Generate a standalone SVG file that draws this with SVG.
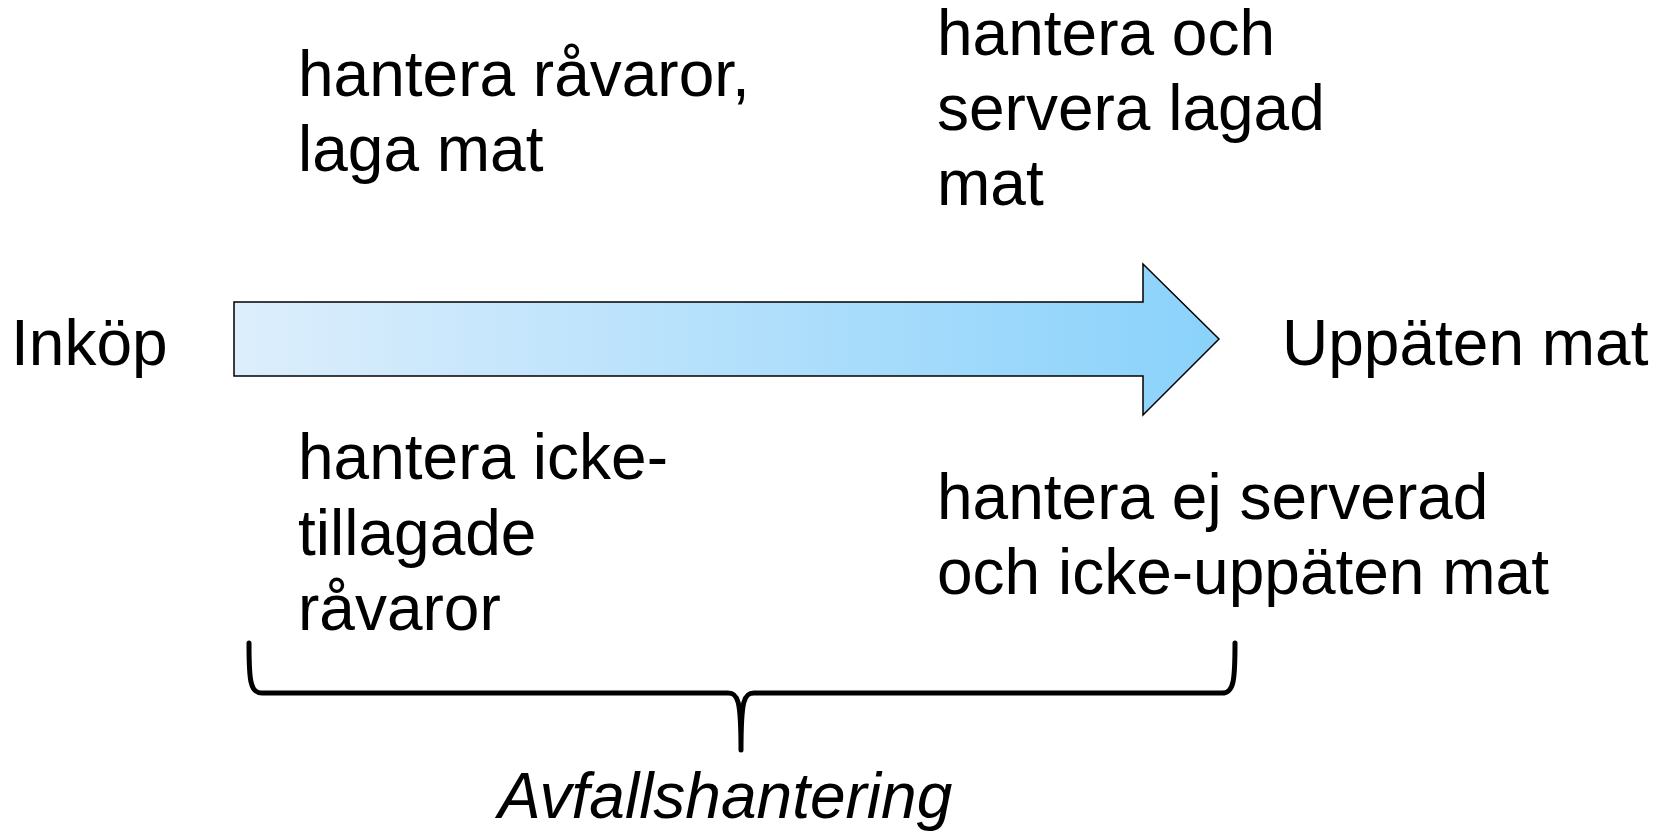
<svg xmlns="http://www.w3.org/2000/svg" width="1667" height="832" viewBox="0 0 1667 832">
<style>
  text { font-family: "Liberation Sans", Arial, sans-serif; font-size: 64px; fill: #000; }
  .it { font-style: italic; }
</style>
<defs>
  <linearGradient id="arrowGrad" x1="0" y1="0" x2="1" y2="0">
    <stop offset="0" stop-color="#DDEEFC"/>
    <stop offset="1" stop-color="#8AD2FB"/>
  </linearGradient>
</defs>
<rect width="1667" height="832" fill="#fff"/>
<g id="connectors">
  <path id="main-arrow" d="M234,302 L1143,302 L1143,264 L1219,339 L1143,415 L1143,376 L234,376 Z" fill="url(#arrowGrad)" stroke="#000" stroke-width="1.5" stroke-linejoin="miter"/>
  <path id="brace" d="M249,643 C249,680 250,693 262,693 L728,693 C738,693 741,700 741,750 C741,700 744,693 754,693 L1222,693 C1234,693 1235,680 1235,643" fill="none" stroke="#000" stroke-width="5" stroke-linecap="round" stroke-linejoin="round"/>
</g>
<g id="node-inkop"><text x="11" y="365">Inköp</text></g>
<g id="node-uppaten"><text x="1282" y="365">Uppäten mat</text></g>
<g id="node-laga"><text x="298" y="96">hantera råvaror,</text><text x="298" y="171">laga mat</text></g>
<g id="node-servera"><text x="937" y="55">hantera och</text><text x="937" y="130">servera lagad</text><text x="937" y="205">mat</text></g>
<g id="node-icke-tillagade"><text x="298" y="479">hantera icke-</text><text x="298" y="555">tillagade</text><text x="298" y="630">råvaror</text></g>
<g id="node-ej-serverad"><text x="937" y="519">hantera ej serverad</text><text x="937" y="594">och icke-uppäten mat</text></g>
<g id="node-avfall"><text class="it" x="498" y="818">Avfallshantering</text></g>
</svg>
